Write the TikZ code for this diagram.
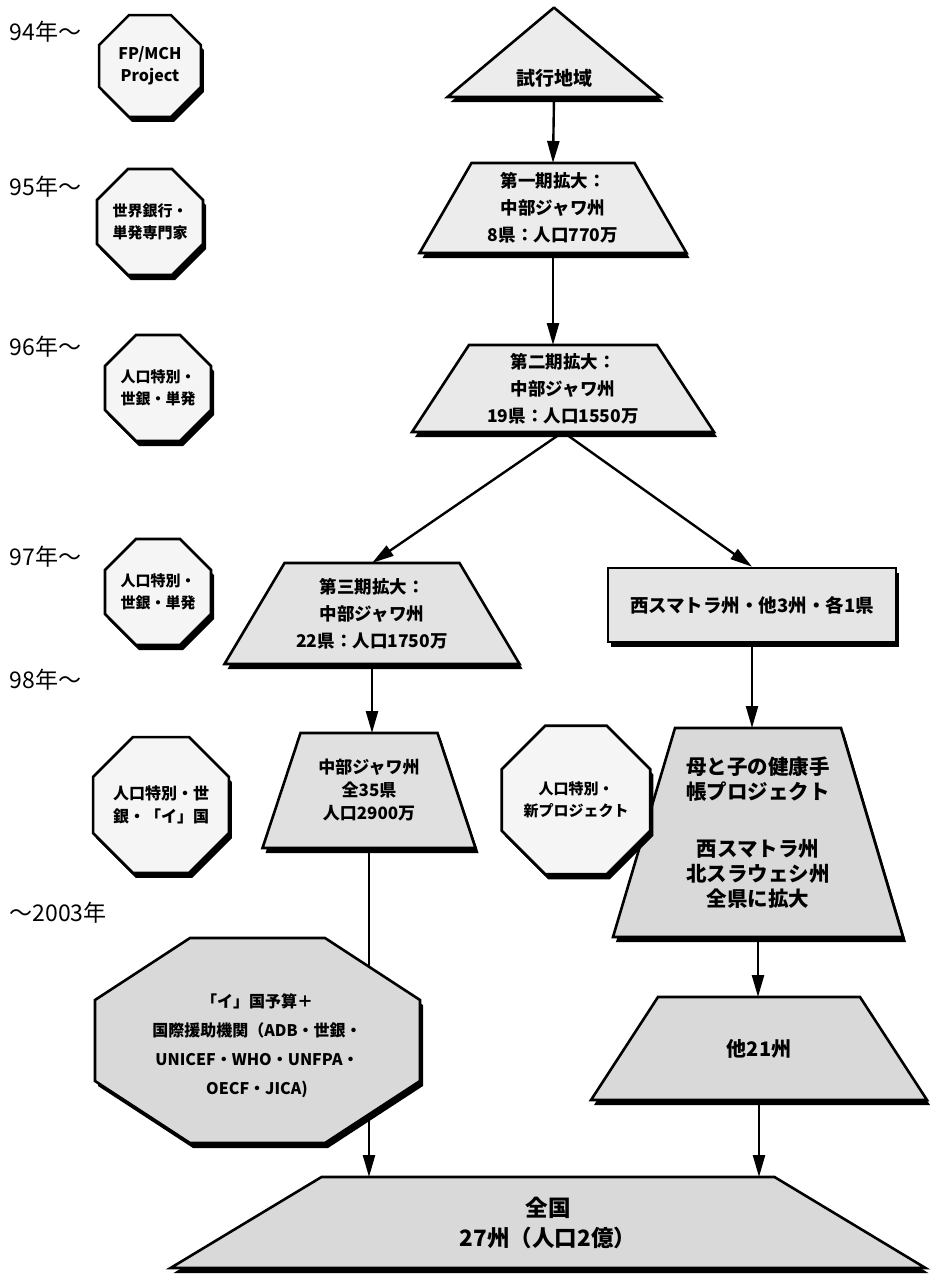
\documentclass[tikz,border=0pt]{standalone}
\usepackage{fontspec}
\newfontfamily\jpfont{Noto Sans CJK JP}
\usepackage{tikz}
\usetikzlibrary{shapes.geometric}
\usetikzlibrary{shadows}
\usetikzlibrary{arrows.meta}
\usetikzlibrary{backgrounds}

\tikzset{
	shadowed/.style={drop shadow={shadow xshift=3pt,shadow yshift=-5pt,fill=black,opacity=1}},
	boxline/.style={draw=black,line width=2.6pt,line join=miter},
	stage/.style={rectangle,inner sep=0pt,outer sep=0pt,align=center,
		font=\jpfont\bfseries\fontsize{17.5}{27}\selectfont},
	octa/.style={boxline,shadowed,regular polygon,regular polygon sides=8,inner sep=0pt,
		align=center,fill=gray!8,font=\jpfont\bfseries\fontsize{15}{22}\selectfont},
	year/.style={anchor=west,font=\jpfont\fontsize{23}{23}\selectfont},
	link/.style={line width=2.4pt,-{Triangle[length=22pt,width=12pt]}},
}

% trapezoid drawn round a stage node: node, side run, fill
\newcommand{\stageback}[3]{%
	\filldraw[boxline,shadowed,fill=#3] ([xshift=-#2]#1.south west) -- (#1.north west)
		-- (#1.north east) -- ([xshift=#2]#1.south east) -- cycle;}

\begin{document}
\begin{tikzpicture}[x=1pt,y=-1pt]
	\useasboundingbox (0,0) rectangle (932,1274);
	
	% years
	\node[year] (y94) at (6,32) {94年〜};
	\node[year] (y95) at (6,187) {95年〜};
	\node[year] (y96) at (6,347) {96年〜};
	\node[year] (y97) at (6,557) {97年〜};
	\node[year] (y98) at (6,680) {98年〜};
	\node[year] (y03) at (6,913) {〜2003年};
	
	% funding octagons
	\node[octa,minimum size=110pt,font=\jpfont\bfseries\fontsize{16}{22}\selectfont] (fp) at (150,66) {FP/MCH\\Project};
	\node[octa,minimum size=106pt] (wb) at (150,222) {世界銀行・\\単発専門家};
	\node[octa,minimum size=112pt] (s96) at (158,388) {人口特別・\\世銀・単発};
	\node[octa,minimum size=112pt] (s97) at (158,592) {人口特別・\\世銀・単発};
	\node[octa,minimum size=138pt,font=\jpfont\bfseries\fontsize{16}{23}\selectfont] (s98) at (161,805) {人口特別・世\\銀・「イ」国};
	\node[octa,minimum size=150pt] (newp) at (576,800) {人口特別・\\新プロジェクト};
	
	% stages
	\node[stage,minimum width=1pt,minimum height=89pt] (trial) at (554,52.5) {};
	\node[font=\jpfont\bfseries\fontsize{19}{19}\selectfont] (trialtext) at (554,78) {試行地域};
	\node[stage,minimum width=163pt,minimum height=90pt] (ex1) at (553,208) {第一期拡大：\\中部ジャワ州\\8県：人口770万};
	\node[stage,minimum width=188pt,minimum height=87pt] (ex2) at (563,388.5) {第二期拡大：\\中部ジャワ州\\19県：人口1550万};
	\node[stage,minimum width=175pt,minimum height=101pt] (ex3) at (372,613.5) {第三期拡大：\\中部ジャワ州\\22県：人口1750万};
	\node[boxline,shadowed,rectangle,minimum width=288pt,minimum height=74pt,fill=gray!20,
		font=\jpfont\bfseries\fontsize{18.5}{25}\selectfont] (west) at (752,605) {西スマトラ州・他3州・各1県};
	\node[stage,minimum width=137pt,minimum height=115pt,font=\jpfont\bfseries\fontsize{17}{23}\selectfont] (java) at (369,790.5) {中部ジャワ州\\全35県\\人口2900万};
	\node[stage,minimum width=166pt,minimum height=209pt,font=\jpfont\bfseries\fontsize{20.5}{25}\selectfont] (mch) at (758,832.5) {母と子の健康手\\帳プロジェクト\\[32pt]西スマトラ州\\北スラウェシ州\\全県に拡大};
	\node[stage,minimum width=202pt,minimum height=103pt,font=\jpfont\bfseries\fontsize{20}{20}\selectfont] (others) at (759,1048.5) {他21州};
	\node[stage,minimum width=453pt,minimum height=91pt,font=\jpfont\bfseries\fontsize{22.5}{30}\selectfont] (nation) at (548,1222.5) {全国\\27州（人口2億）};
	
	\begin{scope}[on background layer]
		\stageback{trial}{106pt}{gray!15}
		\stageback{ex1}{52pt}{gray!15}
		\stageback{ex2}{57pt}{gray!17}
		\stageback{ex3}{60pt}{gray!22}
		\stageback{java}{38pt}{gray!24}
		\stageback{mch}{62pt}{gray!30}
		\stageback{others}{67pt}{gray!30}
		\stageback{nation}{151pt}{gray!30}
	\end{scope}
	
	% flows
	\draw[link] (trial.south) -- (ex1.north);
	\draw[link] (ex1.south) -- (ex1.south |- ex2.north);
	\draw[link] (ex2.south) -- (ex3.north);
	\draw[link] (ex2.south) -- (west.north);
	\draw[link] (ex3.south) -- (ex3.south |- java.north);
	\draw[link] (west.south) -- (west.south |- mch.north);
	\draw[link] (mch.south) -- (mch.south |- others.north);
	\draw[link] (others.south) -- (others.south |- nation.north);
	\draw[link] (java.south) -- (java.south |- nation.north);
	
	% budget octagon (over the line)
	\filldraw[boxline,shadowed,fill=gray!30] (190,938) -- (325,938) -- (420,1000) -- (420,1081)
		-- (325,1143) -- (190,1143) -- (95,1081) -- (95,1000) -- cycle;
	\node[align=center,font=\jpfont\bfseries\fontsize{16}{29}\selectfont] (fund) at (257,1046)
		{「イ」国予算＋\\国際援助機関（ADB・世銀・\\UNICEF・WHO・UNFPA・\\OECF・JICA)};
\end{tikzpicture}
\end{document}
